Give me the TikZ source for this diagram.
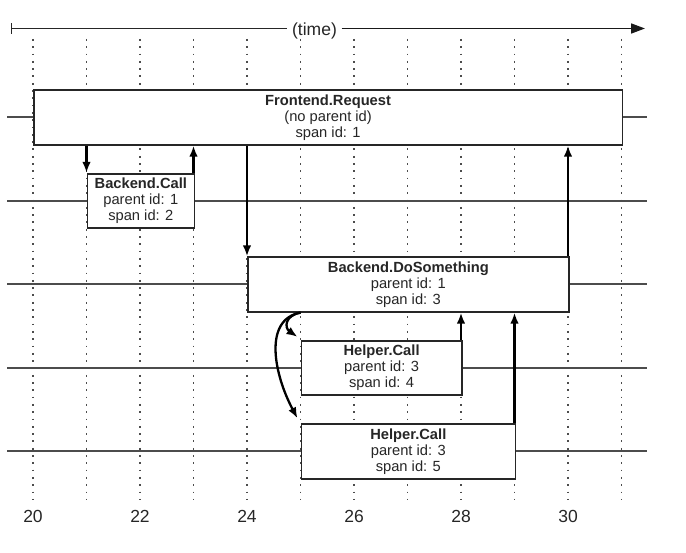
\documentclass[tikz,border=0pt]{standalone}
\usepackage{fontspec}
\setsansfont{Liberation Sans}
\usetikzlibrary{calc}
\usetikzlibrary{arrows.meta}
\newcommand*{\tzero}{33}
\newcommand*{\tstp }{53.5}
\newcommand*{\lzero}{117.5}
\newcommand*{\lstp }{83.5}
\newcommand*{\spht }{54.5pt}
\newcommand*{\spanfont}{\fontsize{14.7}{16}\selectfont}
\newcommand*{\tickfont}{\fontsize{17.5}{20}\selectfont}

\begin{document}
\begin{tikzpicture}[x=1pt, y=-1pt, font=\sffamily,
        gridline/.style = {line width=1.8pt, black!70, dash pattern=on 1.8pt off 5.5pt},
        lane/.style     = {line width=2pt, black!70},
        spanbox/.style  = {draw=black!85, line width=1.7pt, fill=white, anchor=west, inner sep=0pt,
                           minimum height=\spht, align=center, text=black!85, font=\sffamily\spanfont},
        call/.style     = {line width=2.3pt, -{Latex[length=11pt,width=8.5pt]}}]
    \useasboundingbox (0,0) rectangle (686,553);
    % time grid
    \foreach \t in {20,...,31}
        \draw [gridline] ({\tzero+\tstp*(\t-20)}, 39) coordinate (g\t) -- ++(0,461);
    \foreach \t in {20,22,...,30}
        \node [font=\sffamily\tickfont, text=black!85] (n\t) at ({\tzero+\tstp*(\t-20)}, 516) {\t};
    % lanes
    \foreach \k in {0,...,4} {
        \coordinate (ll\k) at (7, {\lzero+\lstp*\k});
        \coordinate (lr\k) at (647, {\lzero+\lstp*\k});
        \draw [lane] (ll\k) -- (lr\k);
    }
    % spans
    \node [spanbox, minimum width=11*\tstp] (fe) at (g20 |- ll0) {\textbf{Frontend.Request}\\(no parent id)\\span id: 1};
    \node [spanbox, minimum width=2*\tstp ] (bc) at (g21 |- ll1) {\textbf{Backend.Call}\\parent id: 1\\span id: 2};
    \node [spanbox, minimum width=6*\tstp ] (ds) at (g24 |- ll2) {\textbf{Backend.DoSomething}\\parent id: 1\\span id: 3};
    \node [spanbox, minimum width=3*\tstp ] (ha) at (g25 |- ll3) {\textbf{Helper.Call}\\parent id: 3\\span id: 4};
    \node [spanbox, minimum width=4*\tstp ] (hb) at (g25 |- ll4) {\textbf{Helper.Call}\\parent id: 3\\span id: 5};
    % calls and returns
    \draw [call] (fe.south -| g21) -- (bc.north -| g21);
    \draw [call] (bc.north -| g23) -- (fe.south -| g23);
    \draw [call] (fe.south -| g24) -- (ds.north -| g24);
    \draw [call] (ds.north -| g30) -- (fe.south -| g30);
    \draw [call] (ds.south -| g25) .. controls +(-16,3) and +(-13,-9) .. ($(ha.north west)+(-3,-3)$);
    \draw [call] (ds.south -| g25) .. controls +(-38,7) and +(-23,-43) .. ($(hb.north west)+(-3,-5)$);
    \draw [call] (ha.north -| g28) -- (ds.south -| g28);
    \draw [call] (hb.north -| g29) -- (ds.south -| g29);
    % time axis
    \coordinate (tl) at (10.7,28.5);
    \coordinate (tr) at (645,28.5);
    \node [font=\sffamily\tickfont, text=black!85, inner xsep=4.5pt] (time) at (314.5,31) {(time)};
    \draw [line width=1.6pt, black!85, {Bar[width=11pt]}-] (tl) -- (time.west |- tl);
    \draw [line width=1.6pt, black!90, -{Triangle[length=14pt,width=10pt]}] (time.east |- tl) -- (tr);
\end{tikzpicture}
\end{document}
